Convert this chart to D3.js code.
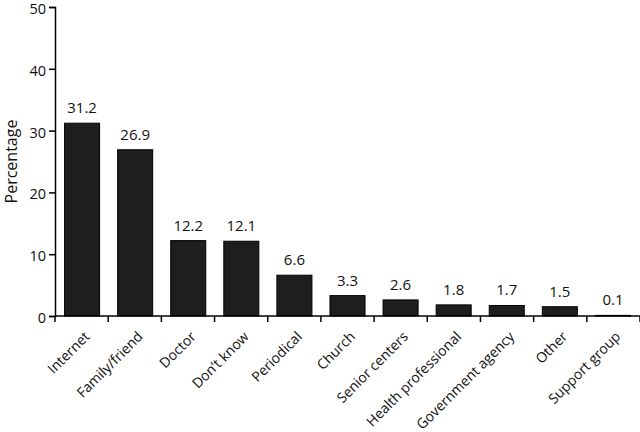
<!DOCTYPE html>
<html><head><meta charset="utf-8">
<script src="https://cdn.jsdelivr.net/npm/d3@7"></script>
<style>
body{margin:0;background:#fff;}
text{font-family:"Open Sans", "Noto Sans", sans-serif;fill:#111;}
</style></head>
<body><svg id="c" width="640" height="432"></svg>
<script>
const categories = ["Internet","Family/friend","Doctor","Don\u2019t know","Periodical","Church","Senior centers","Health professional","Government agency","Other","Support group"];
const values = [31.2,26.9,12.2,12.1,6.6,3.3,2.6,1.8,1.7,1.5,0.1];
const yTicks = [0,10,20,30,40,50];

const svg = d3.select("#c");
const m = {left:55, top:7, right:0, bottom:116};
const W = 640, H = 432;
const x = d3.scaleBand().domain(categories).range([m.left, W - m.right]).paddingInner(0.34).paddingOuter(0.18);
const y = d3.scaleLinear().domain([0,50]).range([H - m.bottom, m.top]);

// bars
svg.selectAll("rect.bar").data(values).join("rect")
  .attr("class","bar")
  .attr("x",(d,i)=>x(categories[i]))
  .attr("width",x.bandwidth())
  .attr("y",d=>y(d))
  .attr("height",d=>y(0)-y(d))
  .attr("fill","#1e1e1e").attr("stroke","#000").attr("stroke-width",1);

// value labels
svg.selectAll("text.val").data(values).join("text")
  .attr("class","val")
  .attr("x",(d,i)=>x(categories[i])+x.bandwidth()/2)
  .attr("y",d=>y(d)-10)
  .attr("text-anchor","middle")
  .attr("font-size",15)
  .text(d=>d.toFixed(1));

// y axis
const ya = svg.append("g").attr("transform",`translate(${m.left},0)`)
  .call(d3.axisLeft(y).tickValues(yTicks).tickSize(6).tickPadding(3).tickFormat(d3.format("d")));
ya.select(".domain").attr("stroke","#000").attr("stroke-width",1.5);
ya.selectAll(".tick line").attr("stroke","#000").attr("stroke-width",1.5);
ya.selectAll(".tick text").attr("font-size",14.5).attr("dy","0.45em")
  .attr("font-family","'Open Sans', sans-serif").attr("fill","#111");

// x axis line and boundary ticks
const x0 = m.left, x1 = W - m.right;
svg.append("line").attr("x1",x0).attr("x2",x1).attr("y1",y(0)).attr("y2",y(0)).attr("stroke","#000").attr("stroke-width",1.5);
const bounds = d3.range(categories.length+1).map(i=>x0 + i*(x1-x0)/categories.length);
svg.selectAll("line.xt").data(bounds).join("line").attr("class","xt")
  .attr("x1",d=>d).attr("x2",d=>d).attr("y1",y(0)).attr("y2",y(0)+6)
  .attr("stroke","#000").attr("stroke-width",1.5);

// x labels
svg.selectAll("text.xl").data(categories).join("text").attr("class","xl")
  .attr("transform",d=>`translate(${x(d)+x.bandwidth()/2+5},${y(0)+18}) rotate(-45)`)
  .attr("text-anchor","end")
  .attr("dy","0.35em")
  .attr("font-size",14)
  .text(d=>d);

// y label
svg.append("text").attr("transform",`translate(17,${(y(0)+y(50))/2}) rotate(-90)`)
  .attr("text-anchor","middle").attr("font-size",16).text("Percentage");
</script></body></html>
